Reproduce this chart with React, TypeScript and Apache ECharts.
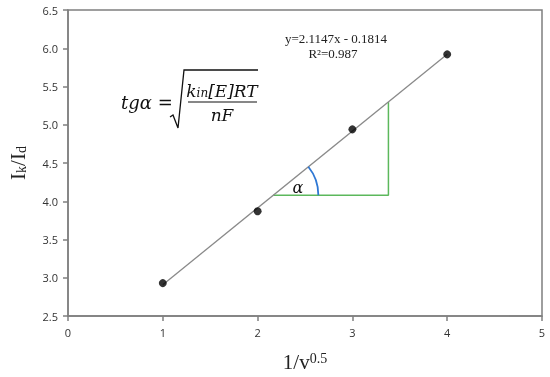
import React, { useEffect, useRef } from "react";
import * as echarts from "echarts";

const xValues = [1, 2, 3, 4];
const yValues = [2.93, 3.87, 4.94, 5.92];
const xTickMin = 0;
const xTickMax = 5;
const yTickMin = 2.5;
const yTickMax = 6.5;
// annotation triangle (data units)
const triangleBaseY = [4.08];
const triangleRightX = [3.38];
const equationLines = ["y=2.1147x - 0.1814", "R²=0.987"];

function linearFit(xs: number[], ys: number[]) {
  const n = xs.length;
  const mx = xs.reduce((a, b) => a + b, 0) / n;
  const my = ys.reduce((a, b) => a + b, 0) / n;
  let sxy = 0, sxx = 0;
  for (let i = 0; i < n; i++) {
    sxy += (xs[i] - mx) * (ys[i] - my);
    sxx += (xs[i] - mx) * (xs[i] - mx);
  }
  const slope = sxy / sxx;
  return { slope, intercept: my - slope * mx };
}

export default function App() {
  const ref = useRef<HTMLDivElement>(null);
  useEffect(() => {
    if (!ref.current) return;
    const chart = echarts.init(ref.current, null, { renderer: "svg" });
    const { slope, intercept } = linearFit(xValues, yValues);
    const xStart = xValues[0];
    const xEnd = xValues[xValues.length - 1];
    const trend = [
      [xStart, slope * xStart + intercept],
      [xEnd, slope * xEnd + intercept],
    ];
    const baseY = triangleBaseY[0];
    const rightX = triangleRightX[0];
    const leftX = (baseY - intercept) / slope;
    const topY = slope * rightX + intercept;
    const triangle = [
      [leftX, baseY],
      [rightX, baseY],
      [rightX, topY],
    ];
    const axisColor = "#7f7f7f";
    const labelStyle = { fontFamily: "Open Sans", fontSize: 11, color: "#333" };
    chart.setOption({
      animation: false,
      grid: {
        left: 68,
        right: 8,
        top: 10,
        bottom: 61,
        containLabel: false,
        outerBoundsMode: "none",
        show: true,
        borderColor: axisColor,
        borderWidth: 1.5,
        backgroundColor: "transparent",
      },
      xAxis: {
        type: "value",
        min: xTickMin,
        max: xTickMax,
        interval: 1,
        splitLine: { show: false },
        axisLine: { show: true, lineStyle: { color: axisColor, width: 1.5 } },
        axisTick: { show: true, length: 5, lineStyle: { color: axisColor, width: 1.5 } },
        axisLabel: { ...labelStyle, margin: 11 },
        name: "1/v{sup|0.5}",
        nameLocation: "middle",
        nameGap: 35,
        nameTextStyle: {
          fontFamily: "Liberation Serif",
          fontSize: 21,
          color: "#222",
          rich: {
            sup: { fontFamily: "Liberation Serif", fontSize: 14, color: "#222", verticalAlign: "top", padding: [0, 0, 8, 0] },
          },
        },
      },
      yAxis: {
        type: "value",
        min: yTickMin,
        max: yTickMax,
        interval: 0.5,
        splitLine: { show: false },
        axisLine: { show: true, lineStyle: { color: axisColor, width: 1.5 } },
        axisTick: { show: true, length: 5, lineStyle: { color: axisColor, width: 1.5 } },
        axisLabel: { ...labelStyle, margin: 10, formatter: (v: number) => v.toFixed(1) },
        name: "{b|I}{s|k}{b|/I}{s|d}",
        nameLocation: "middle",
        nameRotate: 90,
        nameGap: 40,
        nameTextStyle: {
          rich: {
            b: { fontFamily: "Liberation Serif", fontSize: 21, color: "#222", verticalAlign: "bottom", lineHeight: 26 },
            s: { fontFamily: "Liberation Serif", fontSize: 14, color: "#222", verticalAlign: "bottom", lineHeight: 26, padding: [5, 0, 0, 0] },
          },
        },
      },
      series: [
        {
          type: "line",
          data: trend,
          symbol: "none",
          lineStyle: { color: "#8a8a8a", width: 1.3 },
          z: 2,
        },
        {
          type: "line",
          data: triangle,
          symbol: "none",
          lineStyle: { color: "#5cb85c", width: 1.5 },
          z: 1,
        },
        {
          type: "scatter",
          data: xValues.map((x, i) => [x, yValues[i]]),
          symbol: "circle",
          symbolSize: 8,
          itemStyle: { color: "#000" },
          z: 5,
        },
        {
          type: "custom",
          data: [[leftX, baseY]],
          clip: false,
          renderItem: (_params: any, api: any) => {
            const c = api.coord([leftX, baseY]);
            const p = api.coord([leftX + 1, baseY + slope]);
            const ang = Math.atan2(c[1] - p[1], p[0] - c[0]);
            return {
              type: "arc",
              shape: { cx: c[0], cy: c[1], r: 45, startAngle: -ang, endAngle: 0, clockwise: true },
              style: { stroke: "#2f78d4", lineWidth: 1.8, fill: "none" },
            };
          },
          z: 3,
        },
      ],
      graphic: [
        {
          type: "text",
          x: 336,
          y: 38,
          style: { text: equationLines[0], font: "13px 'Liberation Serif'", fill: "#222", align: "center", verticalAlign: "middle" },
        },
        {
          type: "text",
          x: 333,
          y: 53,
          style: { text: equationLines[1], font: "13px 'Liberation Serif'", fill: "#222", align: "center", verticalAlign: "middle" },
        },
        {
          type: "text",
          x: 298,
          y: 187,
          style: { text: "α", font: "italic 16px 'DejaVu Serif'", fill: "#111", align: "center", verticalAlign: "middle" },
        },
        {
          type: "text",
          x: 121,
          y: 102,
          style: { text: "tgα =", font: "italic 18px 'DejaVu Serif'", fill: "#111", align: "left", verticalAlign: "middle" },
        },
        {
          type: "polyline",
          shape: { points: [[170, 117], [173, 115], [178, 128], [184, 70], [258, 70]] },
          style: { stroke: "#111", lineWidth: 1.3, fill: "none" },
        },
        {
          type: "text",
          x: 222,
          y: 88,
          style: {
            text: "{i|k}{s|in}{n|[E]RT}",
            align: "center",
            verticalAlign: "middle",
            rich: {
              i: { font: "italic 17px 'DejaVu Serif'", fill: "#111", verticalAlign: "bottom", lineHeight: 22 },
              s: { font: "italic 12px 'DejaVu Serif'", fill: "#111", verticalAlign: "bottom", lineHeight: 22 },
              n: { font: "italic 17px 'DejaVu Serif'", fill: "#111", verticalAlign: "bottom", lineHeight: 22 },
            },
          },
        },
        {
          type: "line",
          shape: { x1: 188, y1: 102, x2: 257, y2: 102 },
          style: { stroke: "#111", lineWidth: 1.2 },
        },
        {
          type: "text",
          x: 222,
          y: 115,
          style: { text: "nF", font: "italic 17px 'DejaVu Serif'", fill: "#111", align: "center", verticalAlign: "middle" },
        },
      ],
    });
    return () => chart.dispose();
  }, []);
  return <div ref={ref} style={{ position: "fixed", left: 0, top: 0, width: 550, height: 377 }} />;
}
